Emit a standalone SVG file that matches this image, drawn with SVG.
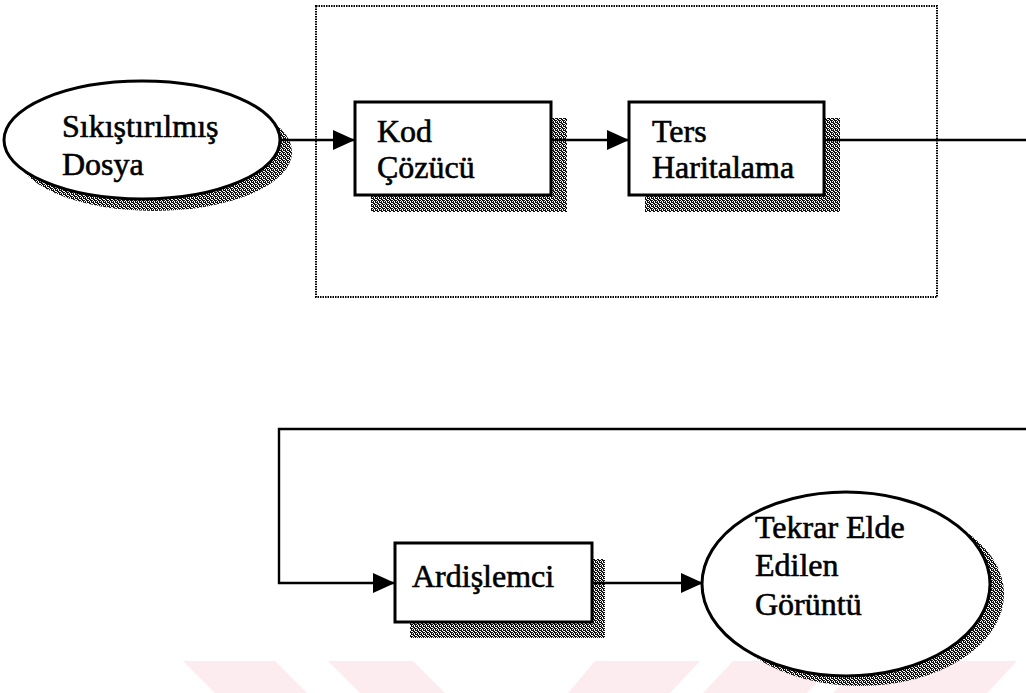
<svg xmlns="http://www.w3.org/2000/svg" width="1026" height="693" viewBox="0 0 1026 693">
  <defs>
    <!-- stippled grey used for the drop shadows -->
    <pattern id="stipple" width="4" height="4" patternUnits="userSpaceOnUse">
      <rect width="4" height="4" fill="#ffffff"/>
      <rect x="0" y="0" width="1" height="1" fill="#111"/>
      <rect x="2" y="0" width="2" height="1" fill="#111"/>
      <rect x="1" y="1" width="1" height="1" fill="#111"/>
      <rect x="3" y="1" width="1" height="1" fill="#111"/>
      <rect x="0" y="2" width="2" height="1" fill="#111"/>
      <rect x="3" y="2" width="1" height="1" fill="#111"/>
      <rect x="1" y="3" width="2" height="1" fill="#111"/>
    </pattern>
    <marker id="arrow" markerUnits="userSpaceOnUse" markerWidth="22" markerHeight="20" refX="22" refY="10" orient="auto">
      <path d="M0,0 L22,10 L0,20 Z" fill="#000"/>
    </marker>
    <style>
      .wm { fill: #fdecef; stroke: none; }
      .shadow { fill: url(#stipple); stroke: none; }
      .shape { fill: #ffffff; stroke: #000; stroke-width: 3; }
      .frame { fill: none; stroke: #000; stroke-width: 2; stroke-dasharray: 1.5 1; }
      .link { fill: none; stroke: #000; stroke-width: 2.4; }
      .label { font-family: "Liberation Serif", "Times New Roman", serif; font-size: 32px; fill: #000; stroke: #000; stroke-width: 0.6; }
    </style>
  </defs>

  <!-- pale background band along the bottom edge -->
  <g id="background">
    <polygon class="wm" points="183,661 275,661 307,693 215,693"/>
    <polygon class="wm" points="328,661 413,661 445,693 360,693"/>
    <polygon class="wm" points="595,661 700,661 670,693 568,693"/>
    <polygon class="wm" points="733,661 837,661 807,693 703,693"/>
    <polygon class="wm" points="863,661 1017,661 987,693 833,693"/>
  </g>

  <!-- dotted frame around the decoder stages -->
  <rect id="decoder-frame" class="frame" x="316" y="6" width="621" height="291"/>

  <g id="compressed-file">
    <ellipse class="shadow" cx="154" cy="152" rx="138" ry="59"/>
    <ellipse class="shape" cx="142" cy="140" rx="138" ry="59"/>
    <text class="label" x="62" y="137">Sıkıştırılmış</text>
    <text class="label" x="62" y="175">Dosya</text>
  </g>

  <g id="decoder">
    <rect class="shadow" x="371" y="118" width="196" height="94"/>
    <rect class="shape" x="355" y="102" width="196" height="93"/>
    <text class="label" x="377" y="142">Kod</text>
    <text class="label" x="377" y="178">Çözücü</text>
  </g>

  <g id="inverse-mapping">
    <rect class="shadow" x="645" y="118" width="195" height="94"/>
    <rect class="shape" x="629" y="102" width="195" height="93"/>
    <text class="label" x="652" y="142">Ters</text>
    <text class="label" x="652" y="178">Haritalama</text>
  </g>

  <g id="postprocessor">
    <rect class="shadow" x="410" y="559" width="195" height="79"/>
    <rect class="shape" x="395" y="543" width="197" height="79"/>
    <text class="label" x="412" y="587">Ardişlemci</text>
  </g>

  <g id="reconstructed-image">
    <ellipse class="shadow" cx="860" cy="594" rx="144" ry="92"/>
    <ellipse class="shape" cx="846" cy="584" rx="144" ry="92"/>
    <text class="label" x="755" y="538">Tekrar Elde</text>
    <text class="label" x="755" y="576">Edilen</text>
    <text class="label" x="755" y="615">Görüntü</text>
  </g>

  <g id="connectors">
    <path class="link" d="M280,140 H355" marker-end="url(#arrow)"/>
    <path class="link" d="M551,140 H629" marker-end="url(#arrow)"/>
    <path class="link" d="M824,140 H1026"/>
    <path class="link" d="M1026,429 H279 V583 H395" marker-end="url(#arrow)"/>
    <path class="link" d="M592,583 H703" marker-end="url(#arrow)"/>
  </g>
</svg>
